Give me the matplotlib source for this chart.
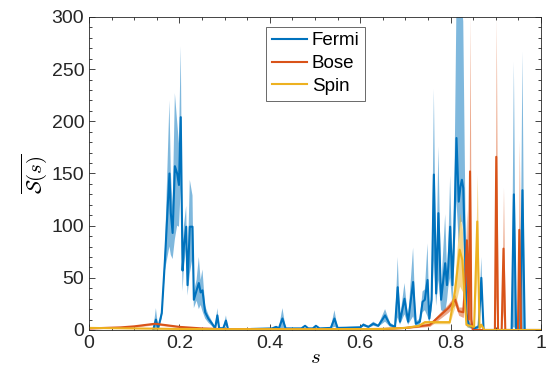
import numpy as np
import matplotlib
matplotlib.use("Agg")
import matplotlib.pyplot as plt
from matplotlib.ticker import MultipleLocator

nan = float("nan")

# ---- data ----
fermi_s = [0.142, 0.148, 0.153, 0.161, 0.168, 0.178, 0.181, 0.185, 0.19, 0.195, 0.199, 0.203, 0.207, 0.21,
           0.215, 0.218, 0.223, 0.229, 0.232, 0.238, 0.243, 0.247, 0.251, 0.257, 0.264, 0.274, 0.279, 0.284,
           0.288, 0.297, 0.303, 0.308, 0.33, 0.36, 0.405, 0.414, 0.42, 0.428, 0.435, 0.47, 0.478, 0.485, 0.495,
           0.502, 0.51, 0.535, 0.543, 0.55, 0.6, 0.607, 0.618, 0.629, 0.64, 0.655, 0.666, 0.677, 0.683, 0.688,
           0.698, 0.706, 0.717, 0.723, 0.732, 0.738, 0.743, 0.749, 0.753, 0.758, 0.763, 0.768, 0.773, 0.779,
           0.788, 0.792, 0.795, 0.799, 0.804, 0.808, 0.813, 0.818, 0.822, 0.825, 0.828, 0.832, 0.835, 0.84,
           0.852, 0.862, 0.868, 0.873, 0.935, 0.94, 0.945, 0.954, 0.959, 0.964, 1.0]
fermi_mean = [0, 10, 1.6, 16, 67, 150, 112, 93, 157, 150, 139, 204, 57, 80,
              99, 43, 99, 99, 29, 38, 45, 36, 38, 17, 11, 5, 1.6, 14,
              1.6, 1.6, 9, 0, nan, 1, 1.5, 3, 1.5, 11, 1.5, 1.5, 4, 1.5, 1.5,
              4, 1.5, 2, 11, 2, 2.5, 5, 3, 6, 4, 14, 5, 3, 41, 8,
              30, 8, 46, 6, 8, 27, 29, 48, 11, 29, 149, 35, 112, 29,
              64, 43, 61, 99, 43, 93, 184, 123, 138, 144, 136, 74, 16, 5,
              1.6, 3, 50, 0, 0, 130, 0, 0, 134, 0, 0]
fermi_err_up = [0, 11, 1, 5, 10, 70, 40, 25, 70, 50, 40, 68, 20, 20,
                20, 10, 45, 30, 8, 10, 25, 12, 20, 6, 4, 2, 1, 7,
                1, 1, 5, 0, nan, 0.5, 0.5, 1, 0.5, 10, 0.5, 0.5, 1, 0.5, 0.5,
                1, 0.5, 0.5, 8, 0.5, 1, 1.5, 1, 2, 1, 6, 2, 1, 29, 3,
                15, 3, 33, 2, 3, 10, 10, 35, 4, 10, 82, 12, 64, 10,
                47, 15, 20, 49, 20, 30, 130, 180, 170, 165, 160, 70, 12, 3,
                1, 2, 20, 0, 0, 127, 0, 0, 133, 0, 0]
fermi_err_dn = [0, 11, 1, 5, 10, 70, 40, 25, 70, 50, 40, 68, 20, 20,
                20, 10, 45, 30, 8, 10, 25, 12, 20, 6, 4, 2, 1, 7,
                1, 1, 5, 0, nan, 0.5, 0.5, 1, 0.5, 10, 0.5, 0.5, 1, 0.5, 0.5,
                1, 0.5, 0.5, 8, 0.5, 1, 1.5, 1, 2, 1, 6, 2, 1, 29, 3,
                15, 3, 33, 2, 3, 10, 10, 35, 4, 10, 82, 12, 64, 10,
                47, 15, 20, 49, 20, 30, 60, 40, 35, 40, 40, 30, 12, 3,
                1, 2, 20, 0, 0, 127, 0, 0, 133, 0, 0]

bose_s = [0.0, 0.07, 0.1, 0.146, 0.2, 0.25, 0.3, 0.5, 0.65, 0.7, 0.73, 0.754, 0.777, 0.795, 0.81, 0.818,
          0.828, 0.832, 0.836, 0.840, 0.843, 0.846, 0.849, 0.898, 0.901, 0.905, 0.913, 0.917, 0.921, 0.949,
          0.952, 0.956, 1.0]
bose_mean = [1.5, 2.5, 3.5, 6, 3, 1.5, 0.8, 0.5, 1, 2, 3.5, 5, 14, 21, 29, 18,
             17, 45, 86, 10, 152, 10, 0, 0, 166, 0, 0, 78, 0, 0,
             96, 0, 0]
bose_err = [0.5, 0.5, 0.8, 1, 0.8, 0.5, 0.3, 0.2, 0.3, 0.5, 1, 1.5, 3, 4, 5, 4,
            5, 15, 30, 5, 150, 5, 0, 0, 134, 0, 0, 59, 0, 0,
            86, 0, 0]

spin_s = [0.0, 0.1, 0.2, 0.3, 0.5, 0.65, 0.7, 0.73, 0.743, 0.798, 0.81, 0.82, 0.826, 0.83, 0.835, 0.852,
          0.859, 0.864, 0.868, 0.875, 1.0]
spin_mean = [2, 1.5, 1, 0.8, 0.8, 1, 2, 4, 7.5, 7.5, 38, 77, 67, 40, 5, 3,
             104, 2, 5, 0, 0]
spin_err = [0.3, 0.3, 0.2, 0.2, 0.2, 0.3, 0.5, 1, 1.5, 1.5, 15, 35, 30, 15, 2, 1,
            45, 1, 2, 0, 0]

series = [("Fermi", fermi_s, fermi_mean, fermi_err_up, fermi_err_dn, "#0072BD"),
          ("Bose", bose_s, bose_mean, bose_err, bose_err, "#D95319"),
          ("Spin", spin_s, spin_mean, spin_err, spin_err, "#EDB120")]

x_ticks = [0, 0.2, 0.4, 0.6, 0.8, 1]
x_ticklabels = ["0", "0.2", "0.4", "0.6", "0.8", "1"]
y_ticks = [0, 50, 100, 150, 200, 250, 300]

# ---- plot ----
plt.rcParams['font.family'] = ['Liberation Sans', 'DejaVu Sans']
plt.rcParams['mathtext.fontset'] = 'cm'

fig = plt.figure(figsize=(5.51, 3.77), dpi=100)
ax = fig.add_axes([89/551, 47/377, 452/551, 313/377])

handles = []
for name, s, m, eu, ed, c in series:
    s = np.array(s, float); m = np.array(m, float)
    eu = np.array(eu, float); ed = np.array(ed, float)
    lo = np.clip(m - ed, 0, None)
    hi = m + eu
    ax.fill_between(s, lo, hi, color=c, alpha=0.5, lw=0)
    h, = ax.plot(s, m, color=c, lw=1.5, label=name)
    handles.append(h)

ax.set_xlim(0, 1)
ax.set_ylim(0, 300)
ax.set_xticks(x_ticks)
ax.set_xticklabels(x_ticklabels)
ax.set_yticks(y_ticks)
ax.xaxis.set_minor_locator(MultipleLocator(0.05))
ax.yaxis.set_minor_locator(MultipleLocator(10))
ax.tick_params(which='both', direction='in', top=True, right=True, labelsize=14,
               colors='#262626', width=0.6)
ax.tick_params(which='major', length=4)
ax.tick_params(which='minor', length=2.2)
for sp in ax.spines.values():
    sp.set_color('#262626')
    sp.set_linewidth(0.6)

ax.set_xlabel('$s$', fontsize=15, labelpad=-3)
ax.set_ylabel(r'$\overline{\mathcal{S}(s)}$', fontsize=15, labelpad=2)

leg = ax.legend(handles=handles, loc='upper left', bbox_to_anchor=(0.392, 0.969),
                fontsize=13.5, frameon=True, fancybox=False, edgecolor='#262626',
                handlelength=1.87, handletextpad=0.27, borderpad=0.3, labelspacing=0.3,
                borderaxespad=0)
leg.get_frame().set_linewidth(0.6)

fig.savefig('out.png', dpi=100)
